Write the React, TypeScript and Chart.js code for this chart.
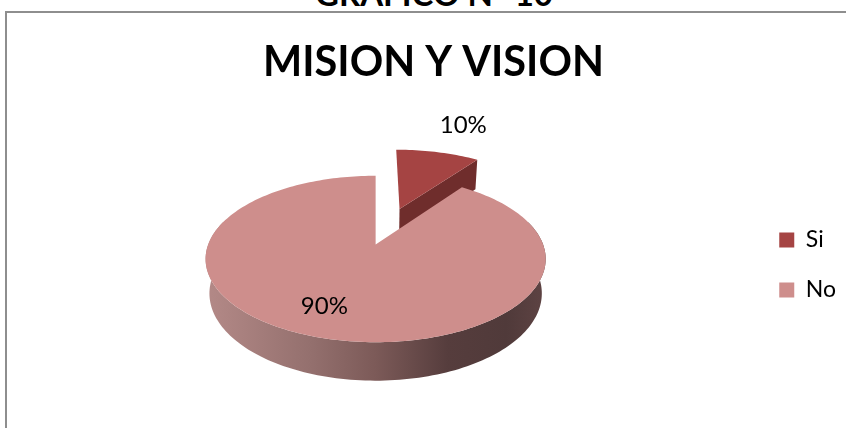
import React, { useEffect, useRef } from "react";
import { Chart, registerables } from "chart.js";

Chart.register(...registerables);

// Chart content
const chartTitle = "MISION Y VISION";
const pageHeading = "GRAFICO N° 10";
const categories = ["Si", "No"];
const shares = [10, 90];
const sliceColors = ["#a54443", "#ce8e8c"];
const wallColors = ["#6f2d2c", "#6f2d2c"];
// Radial pull of each slice, as a fraction of the radius
const sliceExplode = [0.5, 0];
// Where each value label sits: radius fraction and pixel nudges
const labelRadius = [1.6, 0.72];
const labelNudge = [[7, 0], [-9, -1]];

// Perspective of the tilted disc
const TILT = 0.482;
const RECEDE = 0.1737;
const DEPTH = 0.208;
const DEPTH_SHRINK = 0.0225;

// The disc sits left of the middle of the plot area, the legend lower than its default
const PIE_SHIFT_X = -11;
const LEGEND_SHIFT_Y = 59;

type Pt = [number, number];

const pie3d = {
  id: "pie3d",
  afterLayout(chart: any) {
    chart.legend.top += LEGEND_SHIFT_Y;
    chart.legend.bottom += LEGEND_SHIFT_Y;
  },
  beforeDatasetsDraw(chart: any) {
    const { ctx } = chart;
    const arcs = chart.getDatasetMeta(0).data;

    const project = (cx: number, cy: number, R: number, X: number, Y: number, Z: number): Pt => {
      const w = 1 - RECEDE * Y + DEPTH_SHRINK * Z;
      return [cx + PIE_SHIFT_X + (R * X) / w, cy + (R * (TILT * Y + DEPTH * Z)) / w];
    };

    const trace = (pts: Pt[]) => {
      ctx.beginPath();
      pts.forEach((p, i) => (i ? ctx.lineTo(p[0], p[1]) : ctx.moveTo(p[0], p[1])));
      ctx.closePath();
    };

    arcs.forEach((arc: any, i: number) => {
      const { x: cx, y: cy, outerRadius: R, startAngle, endAngle } = arc;
      const mid = (startAngle + endAngle) / 2;
      const ox = Math.cos(mid) * sliceExplode[i];
      const oy = Math.sin(mid) * sliceExplode[i];
      const P = (a: number, r: number, z: number) =>
        project(cx, cy, R, ox + Math.cos(a) * r, oy + Math.sin(a) * r, z);

      const steps = Math.max(8, Math.ceil((endAngle - startAngle) * 40));
      const angles: number[] = [];
      for (let s = 0; s <= steps; s++) angles.push(startAngle + ((endAngle - startAngle) * s) / steps);

      // Cut face on the clockwise edge of the slice
      ctx.fillStyle = wallColors[i];
      trace([P(endAngle, 0, 0), P(endAngle, 1, 0), P(endAngle, 1, 1), P(endAngle, 0, 1)]);
      ctx.fill();

      // Curved outer wall, shaded from left to right; only its front part can show
      const front = angles.filter((a) => Math.sin(a) > -0.3);
      if (front.length > 1) {
        const left = project(cx, cy, R, -1, 0, 1)[0];
        const right = project(cx, cy, R, 1, 0, 1)[0];
        const shade = ctx.createLinearGradient(left, 0, right, 0);
        shade.addColorStop(0, "#b28886");
        shade.addColorStop(0.3, "#94706e");
        shade.addColorStop(0.5, "#7c5a58");
        shade.addColorStop(0.72, "#563d3d");
        shade.addColorStop(0.9, "#503a3a");
        shade.addColorStop(1, "#5c4242");
        ctx.fillStyle = shade;
        trace([...front.map((a) => P(a, 1, 0)), ...front.slice().reverse().map((a) => P(a, 1, 1))]);
        ctx.fill();
      }

      // Top face
      ctx.fillStyle = sliceColors[i];
      trace([P(0, 0, 0), ...angles.map((a) => P(a, 1, 0))]);
      ctx.fill();
    });

    // Value labels go over every slice
    ctx.fillStyle = "#000";
    ctx.font = "24px Lato";
    ctx.textAlign = "center";
    ctx.textBaseline = "middle";
    arcs.forEach((arc: any, i: number) => {
      const { x: cx, y: cy, outerRadius: R, startAngle, endAngle } = arc;
      const mid = (startAngle + endAngle) / 2;
      const r = labelRadius[i] + sliceExplode[i];
      const p = project(cx, cy, R, Math.cos(mid) * r, Math.sin(mid) * r, 0);
      ctx.fillText(`${shares[i]}%`, p[0] + labelNudge[i][0], p[1] + labelNudge[i][1]);
    });

    return false;
  },
};

export default function App() {
  const ref = useRef<HTMLCanvasElement>(null);

  useEffect(() => {
    const chart = new Chart(ref.current as HTMLCanvasElement, {
      type: "pie",
      data: {
        labels: categories,
        datasets: [{ data: shares, backgroundColor: sliceColors, borderWidth: 0 }],
      },
      options: {
        animation: false,
        responsive: false,
        maintainAspectRatio: false,
        layout: { padding: { left: 21, bottom: 16 } },
        plugins: {
          tooltip: { enabled: false },
          title: {
            display: true,
            text: chartTitle,
            color: "#000",
            font: { family: "Lato", size: 41.5, weight: "bold", lineHeight: 0.7 },
            padding: { top: 48, bottom: 0 },
          },
          legend: {
            position: "right",
            labels: {
              boxWidth: 15,
              boxHeight: 15,
              padding: 27,
              color: "#000",
              font: { family: "Lato", size: 23 },
            },
          },
        },
      },
      plugins: [pie3d],
    } as any);
    return () => chart.destroy();
  }, []);

  return (
    <div style={{ position: "absolute", left: 0, top: 0, width: 846, height: 428, overflow: "hidden", background: "#fff" }}>
      <div
        style={{
          position: "absolute",
          left: 284,
          width: 300,
          top: -23,
          textAlign: "center",
          font: "bold 33px/32px Lato",
          color: "#000",
          whiteSpace: "nowrap",
        }}
      >
        {pageHeading}
      </div>
      <div
        style={{
          position: "absolute",
          left: 5,
          top: 11,
          right: 0,
          bottom: 0,
          borderTop: "2px solid #8e8e8e",
          borderLeft: "2px solid #8e8e8e",
        }}
      />
      <canvas ref={ref} width={846} height={428} style={{ position: "absolute", left: 0, top: 0 }} />
    </div>
  );
}
